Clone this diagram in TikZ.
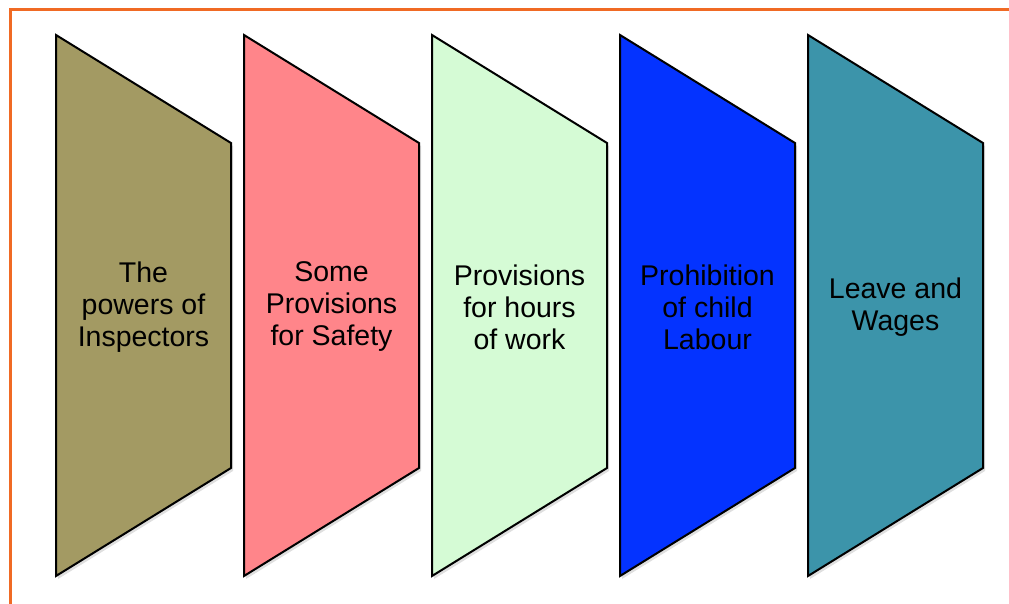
\documentclass[tikz,border=0pt]{standalone}
\usepackage{fontspec}
\setmainfont{Liberation Sans}
\usetikzlibrary{shadows}
\definecolor{cOlive}{HTML}{A39A63}
\definecolor{cPink}{HTML}{FF858A}
\definecolor{cMint}{HTML}{D5FBD5}
\definecolor{cBlue}{HTML}{0433FF}
\definecolor{cTeal}{HTML}{3C94AA}
\definecolor{cFrame}{HTML}{F06A24}
\tikzset{
  chev/.style={draw=black, line width=2pt, line join=miter,
    drop shadow={shadow xshift=2pt, shadow yshift=-3pt, opacity=0.25}},
  lbl/.style={align=center, font=\fontsize{28.5}{32}\selectfont, text=black}
}
\begin{document}
\begin{tikzpicture}[x=1pt,y=-1pt]
\useasboundingbox (0,0) rectangle (1009,604);
\draw[cFrame, line width=3pt] (10,604) -- (10,9.5) -- (1009,9.5);
\foreach \i/\c in {0/cOlive,1/cPink,2/cMint,3/cBlue,4/cTeal}{
  \pgfmathsetmacro{\xl}{56+188*\i}
  \pgfmathsetmacro{\xr}{\xl+175}
  \path[chev, fill=\c] (\xl,35) -- (\xr,143) -- (\xr,468) -- (\xl,576) -- cycle;
}
\node[lbl] (t1) at (143.5,307) {The\\powers of\\Inspectors};
\node[lbl] (t2) at (331.5,307) {Some\\Provisions\\for Safety};
\node[lbl] (t3) at (519.5,307) {Provisions\\for hours\\of work};
\node[lbl] (t4) at (707.5,307) {Prohibition\\of child\\Labour};
\node[lbl] (t5) at (895.5,307) {Leave and\\Wages};
\end{tikzpicture}
\end{document}
